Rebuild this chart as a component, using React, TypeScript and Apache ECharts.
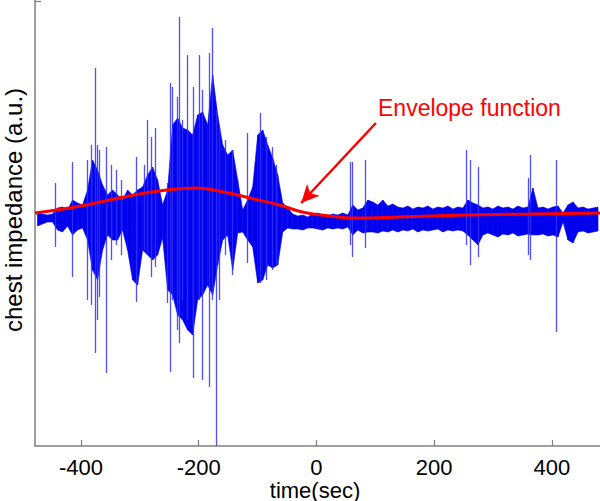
import React, { useEffect, useRef } from "react";
import * as echarts from "echarts";

// x-axis ticks
const xTicks = [-400, -200, 0, 200, 400];

// Dense body of the impedance trace: bins starting at binStart, binStep seconds wide
const binStart = -478;
const binStep = 8.5;
const coreHi = [3,1,0,1,7,8,5,15,12,10, 25,55,45,30,20,25,20,15,25,20, 25,28,40,48,35,10,25,90,97,87, 85,80,100,103,90,140,100,70,60,65, 35,5,15,28,80,85,70,57,40,12, 7, 1,-1,0,-2,1,2,0,-1,1,0,2,0, 10,5,7,15, 13,10,15,9,11,8, 7,9,6,8,7,9,6,8,7,9,6,8,7, 15,12,10, 7,8,6,9,7,8,6,9,7,8, 27, 7,8,6,8,9, 2,10,13, 7,8,6,7,8];
const coreLo = [-11,-9,-7,-7,-15,-17,-11,-20,-15,-13, -25,-55,-65,-35,-20,-25,-25,-15,-35,-65, -70,-35,-40,-45,-40,-23,-75,-80,-100,-105, -115,-120,-85,-80,-70,-80,-50,-25,-20,-55, -18,-17,-25,-32,-68,-65,-50,-53,-50,-17, -13, -14,-14,-15,-13,-13,-14,-15,-13,-14,-13,-14,-12, -20,-15,-18,-17, -17,-18,-16,-17,-15,-17, -15,-16,-14,-17,-15,-16,-15,-14,-17,-15,-16,-15,-16, -20,-25,-30, -20,-18,-20,-22,-19,-20,-18,-21,-20,-19, -20, -20,-19,-21,-20,-22, -7,-25,-28, -17,-16,-18,-17,-16];

// Individual spikes (time, top, bottom)
const spikeT = [-444,-415,-390,-383,-376,-373,-369,-357,-349,-340,-332,-306,-293,-288,-281,-274,-254,-249,-245,-237,-233,-228,-220,-210,-199,-194,-182,-177,-171,-165,-155,-143,-118,-96,-86,-75,-69,57,61,83,254,260,275,360,363,407];
const spikeHi = [32,53,55,70,147,70,65,68,50,45,35,58,50,95,78,87,32,132,128,118,198,95,160,128,160,125,162,187,105,88,75,65,82,102,78,68,50,53,53,55,65,55,48,37,60,55];
const spikeLo = [-32,-62,-85,-90,-138,-105,-82,-158,-45,-30,-40,-87,-35,-38,-62,-52,-88,-157,-85,-115,-128,-85,-105,-163,-85,-165,-172,-85,-231,-85,-40,-60,-48,-68,-65,-55,-50,-30,-42,-33,-30,-50,-42,-40,-45,-117];

// Envelope function
const envT = [-478,-401,-319,-268,-205,-149,-106,-63,-24,22,67,140,251,362,485];
const envV = [2,9,19,24,27,22,16,10,3,-1,-3,-2,0,1,2];

// Annotation arrow (data coords)
const arrowFrom = [101, 92];
const arrowTo = [-26, 12];

const FONT = '"Liberation Sans", Arial, sans-serif';
const AXIS = "#7f7f7f";

export default function App() {
  const ref = useRef<HTMLDivElement>(null);
  useEffect(() => {
    if (!ref.current) return;
    const chart = echarts.init(ref.current, undefined, { renderer: "svg" });

    const coreData: number[][] = [];
    for (let i = 0; i < coreHi.length - 1; i++) {
      const t0 = binStart + binStep * (i + 0.5);
      const t1 = binStart + binStep * (i + 1.5);
      coreData.push([t0, t1, coreLo[i], coreHi[i], coreLo[i + 1], coreHi[i + 1]]);
    }
    const spikeData = spikeT.map((t, i) => [t, spikeLo[i], spikeHi[i]]);
    const envData = envT.map((t, i) => [t, envV[i]]);

    chart.setOption({
      animation: false,
      backgroundColor: "#ffffff",
      grid: { left: 35, right: -2, top: 0, bottom: 55, outerBoundsMode: "none", containLabel: false },
      xAxis: {
        type: "value",
        min: -478,
        max: 485,
        splitLine: { show: false },
        axisLine: { show: true, onZero: false, lineStyle: { color: AXIS, width: 1.5 } },
        axisTick: { show: true, inside: true, length: 6, lineStyle: { color: AXIS, width: 1.2 } },
        axisLabel: {
          show: true,
          margin: 10,
          color: "#000",
          fontSize: 22,
          fontFamily: FONT,
          showMinLabel: false,
          showMaxLabel: false,
          formatter: (v: number) => (xTicks.indexOf(v) >= 0 ? String(v) : ""),
        },
      },
      yAxis: {
        type: "value",
        min: -231,
        max: 215,
        splitLine: { show: false },
        axisLine: { show: true, onZero: false, lineStyle: { color: AXIS, width: 1.5 } },
        axisTick: { show: false },
        axisLabel: { show: false },
      },
      graphic: [
        {
          type: "text",
          x: 378,
          y: 108,
          style: { text: "Envelope function", fill: "#ff0000", font: `23px ${FONT}`, align: "left", verticalAlign: "middle" },
        },
        {
          type: "text",
          x: 315,
          y: 490,
          style: { text: "time(sec)", fill: "#000", font: `22px ${FONT}`, align: "center", verticalAlign: "middle" },
        },
        {
          type: "text",
          x: 13,
          y: 210,
          rotation: Math.PI / 2,
          style: { text: "chest impedance (a.u.)", fill: "#000", font: `24px ${FONT}`, align: "center", verticalAlign: "middle" },
        },
        {
          type: "line",
          shape: { x1: 35, y1: 1.5, x2: 41, y2: 1.5 },
          style: { stroke: AXIS, lineWidth: 1.2 },
        },
      ],
      series: [
        {
          type: "custom",
          name: "core",
          data: coreData,
          encode: { x: [0, 1], y: [2, 3, 4, 5] },
          renderItem: (params: any, api: any) => {
            const a = api.coord([api.value(0), api.value(3)]);
            const b = api.coord([api.value(1), api.value(5)]);
            const c = api.coord([api.value(1), api.value(4)]);
            const d = api.coord([api.value(0), api.value(2)]);
            return {
              type: "polygon",
              shape: { points: [a, b, c, d] },
              style: { fill: "#0000ee", stroke: "#0000ee", lineWidth: 0.6 },
            };
          },
          z: 2,
        },
        {
          type: "custom",
          name: "spikes",
          data: spikeData,
          encode: { x: 0, y: [1, 2] },
          renderItem: (params: any, api: any) => {
            const p0 = api.coord([api.value(0), api.value(2)]);
            const p1 = api.coord([api.value(0), api.value(1)]);
            const x = Math.round(p0[0]) + 0.5;
            return {
              type: "line",
              shape: { x1: x, y1: p0[1], x2: x, y2: p1[1] },
              style: { stroke: "#3030ff", lineWidth: 1.3, opacity: 0.85 },
            };
          },
          z: 2,
        },
        {
          type: "line",
          name: "envelope",
          data: envData,
          smooth: 0.4,
          symbol: "none",
          lineStyle: { color: "#ff0000", width: 3 },
          z: 5,
          markLine: {
            silent: true,
            symbol: ["none", "arrow"],
            symbolSize: [13, 18],
            lineStyle: { color: "#ff0000", width: 2.5, type: "solid" },
            label: { show: false },
            data: [[{ coord: arrowFrom }, { coord: arrowTo }]],
          },
        },
      ],
    });
    return () => chart.dispose();
  }, []);
  return <div ref={ref} style={{ position: "absolute", left: 0, top: 0, width: 600, height: 501 }} />;
}
